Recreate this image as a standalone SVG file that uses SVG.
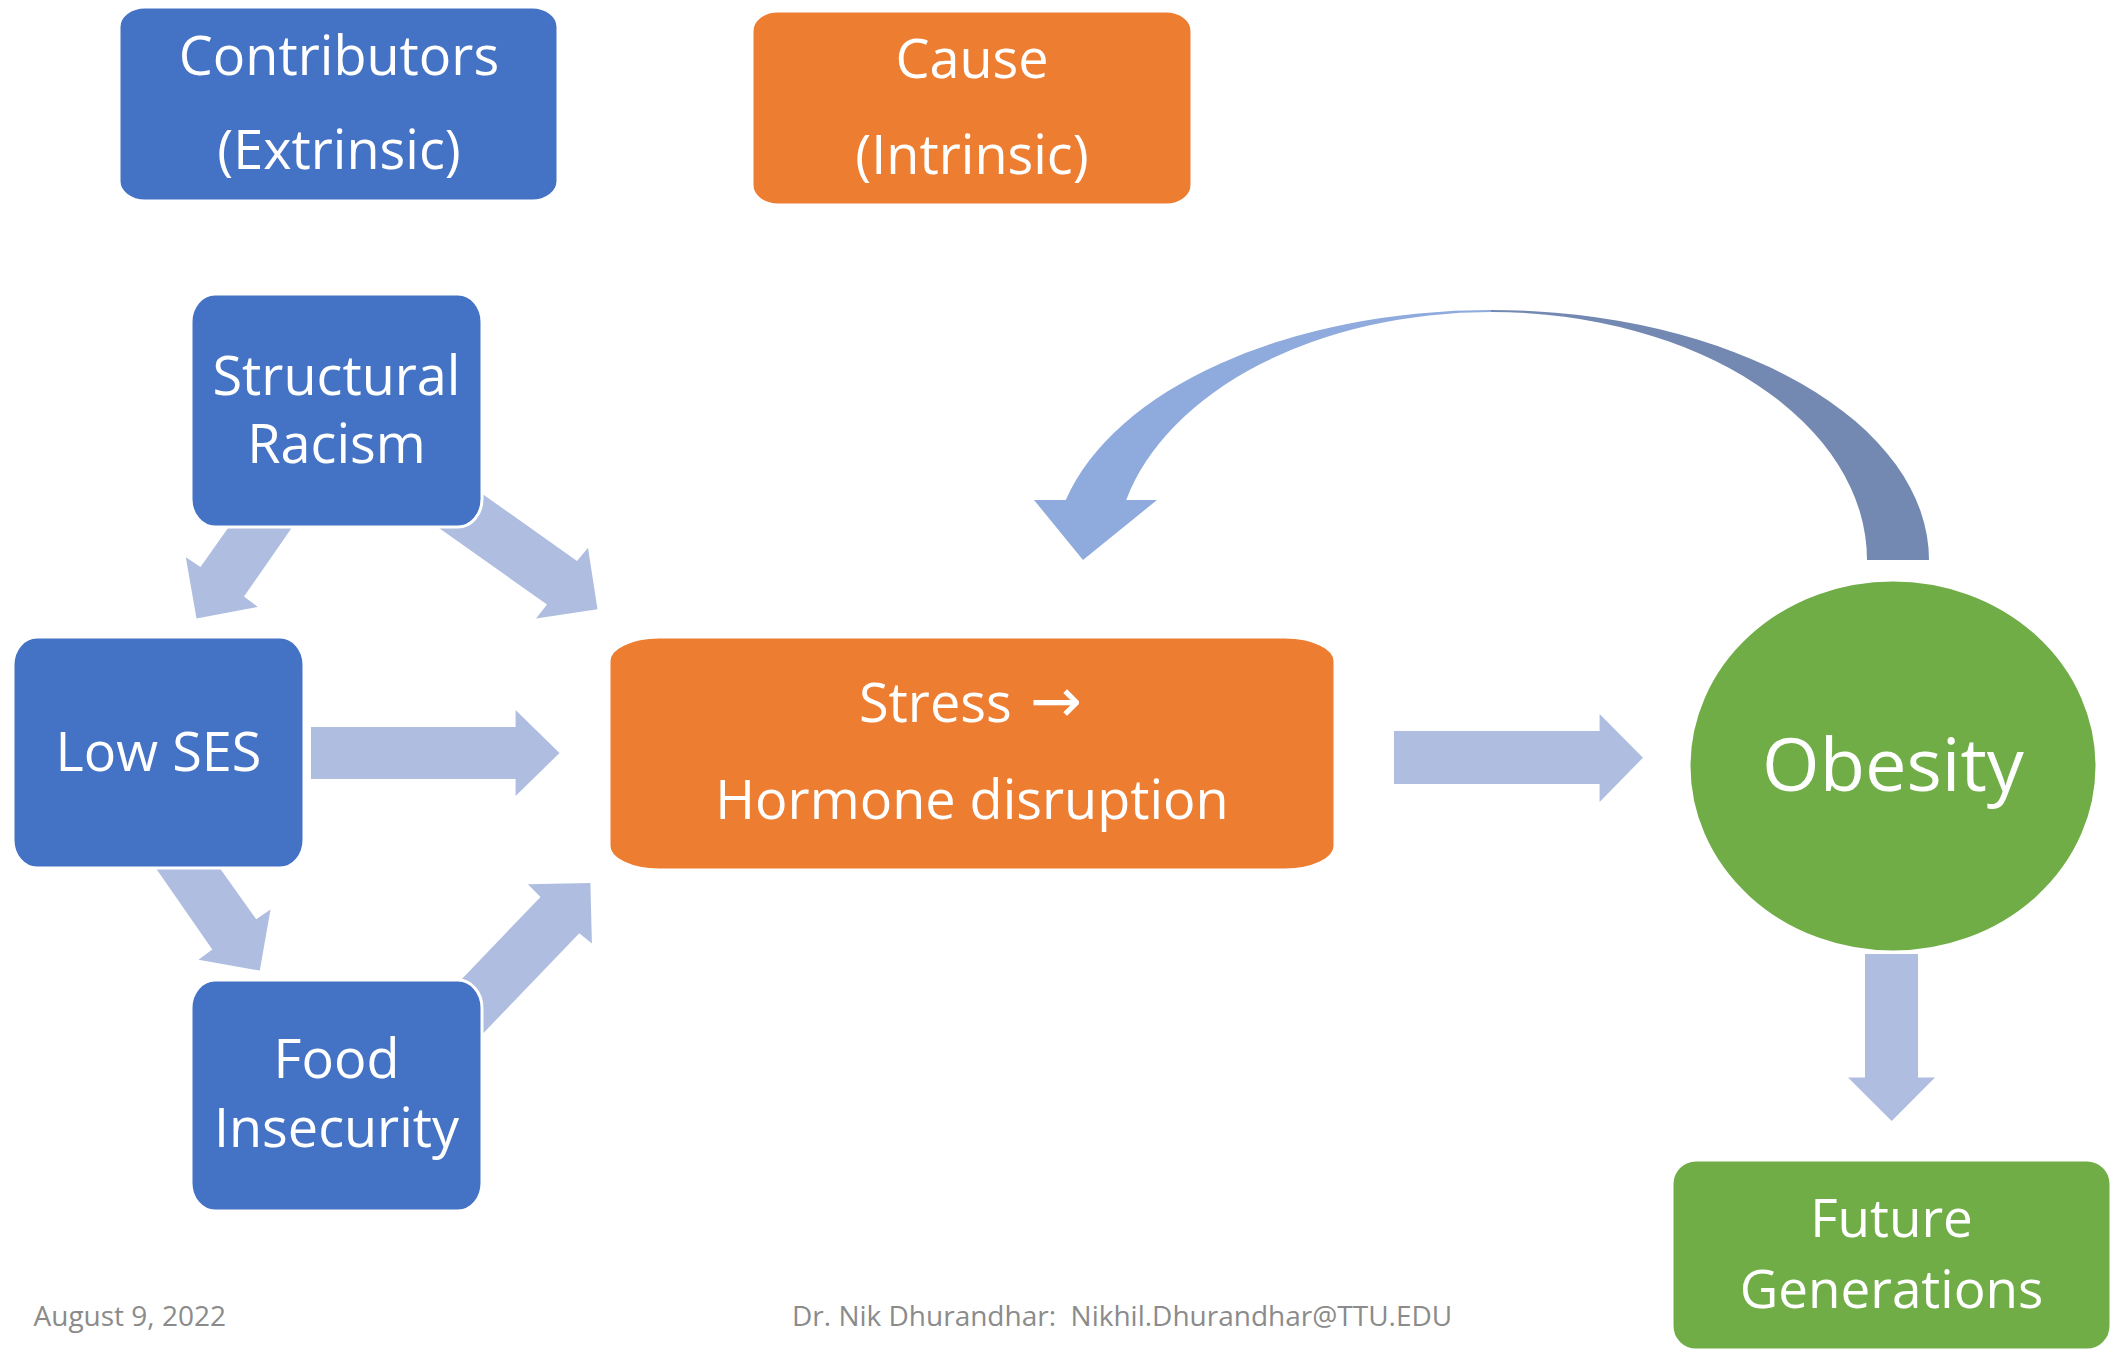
<svg xmlns="http://www.w3.org/2000/svg" width="2113" height="1352" viewBox="0 0 2113 1352">
<style>
  .blue{fill:#4472C4;stroke:#FFFFFF;stroke-width:3}
  .orange{fill:#ED7D31;stroke:#FFFFFF;stroke-width:3}
  .green{fill:#70AD47;stroke:#FFFFFF;stroke-width:3}
  .arr{fill:#AFBDE0}
  .lbl{font-family:"Open Sans","Noto Sans","DejaVu Sans",sans-serif;font-size:54px;fill:#FFFFFF;text-anchor:middle}
  .big{font-size:74px}
  .fg{font-size:53px}
  .foot{font-family:"Open Sans","Noto Sans",sans-serif;font-size:28px;fill:#8B8B8B}
</style>
<rect width="2113" height="1352" fill="#FFFFFF"/>
<g id="connectors">
  <polygon class="arr" points="237.2,515 200.5,567 185.8,557.3 196.5,618.4 257.8,606.9 244,596.6 300.6,515"/>
  <polygon class="arr" points="438.6,462.9 577,561 588,547.7 597.5,609.3 536,618.4 547,604.5 408,506.1"/>
  <polygon class="arr" points="150.2,860 212.3,949.5 198.5,959.7 259.8,970.6 270.5,909.6 256.2,919.3 214,860"/>
  <polygon class="arr" points="461.4,1056 579.3,933.2 591.9,943.4 590.4,883 527.9,884.2 540.5,896.9 423.2,1019.4"/>
  <polygon class="arr" points="311,727 515.6,727 515.6,710 559.5,753 515.6,796 515.6,779 311,779"/>
  <polygon class="arr" points="1394,731 1599.6,731 1599.6,714 1643,757.7 1599.6,802 1599.6,784 1394,784"/>
  <polygon class="arr" points="1865,954 1918,954 1918,1077.6 1935,1077.6 1891.7,1121 1848,1077.6 1865,1077.6"/>
  <path fill="#8FAADC" d="M1491,310 A438,250 0 0 0 1065.8,500 L1034,500 L1083,560 L1157,500 L1126.2,500 A376,248 0 0 1 1491,312 Z"/>
  <path fill="#7489B2" d="M1491,310 A438,250 0 0 1 1929,560 L1867,560 A376,248 0 0 0 1491,312 Z"/>
</g>
<g id="contributors">
  <rect class="blue" x="119" y="7" width="439" height="194" rx="26" ry="20"/>
  <text class="lbl" x="339" y="75">Contributors</text>
  <text class="lbl" x="339" y="169">(Extrinsic)</text>
</g>
<g id="cause">
  <rect class="orange" x="752" y="11" width="440" height="194" rx="26" ry="20"/>
  <text class="lbl" x="972" y="78">Cause</text>
  <text class="lbl" x="972" y="174">(Intrinsic)</text>
</g>
<g id="structural-racism">
  <rect class="blue" x="191" y="294" width="291" height="233" rx="24" ry="28"/>
  <text class="lbl" x="336.5" y="395">Structural</text>
  <text class="lbl" x="336.5" y="463">Racism</text>
</g>
<g id="low-ses">
  <rect class="blue" x="13" y="637" width="291" height="231" rx="24" ry="28"/>
  <text class="lbl" x="158.5" y="771">Low SES</text>
</g>
<g id="food-insecurity">
  <rect class="blue" x="191" y="980" width="291" height="231" rx="24" ry="28"/>
  <text class="lbl" x="336.5" y="1078">Food</text>
  <text class="lbl" x="336.5" y="1147">Insecurity</text>
</g>
<g id="stress">
  <rect class="orange" x="609" y="637" width="726" height="233" rx="50" ry="24"/>
  <text class="lbl" y="722" style="text-anchor:start"><tspan x="859">Stress</tspan><tspan x="1030" style="font-family:'DejaVu Sans',sans-serif;font-size:62px">→</tspan></text>
  <text class="lbl" x="972" y="819">Hormone disruption</text>
</g>
<g id="obesity">
  <ellipse class="green" cx="1893" cy="766" rx="204" ry="186"/>
  <text class="lbl big" x="1893" y="791">Obesity</text>
</g>
<g id="future-generations">
  <rect class="green" x="1672" y="1160" width="439" height="190" rx="24" ry="24"/>
  <text class="lbl fg" x="1891.5" y="1237">Future</text>
  <text class="lbl fg" x="1891.5" y="1308">Generations</text>
</g>
<g id="footer">
  <text class="foot" x="33.5" y="1326">August 9, 2022</text>
  <text class="foot" x="792" y="1326" xml:space="preserve">Dr. Nik Dhurandhar:  Nikhil.Dhurandhar@TTU.EDU</text>
</g>
</svg>
